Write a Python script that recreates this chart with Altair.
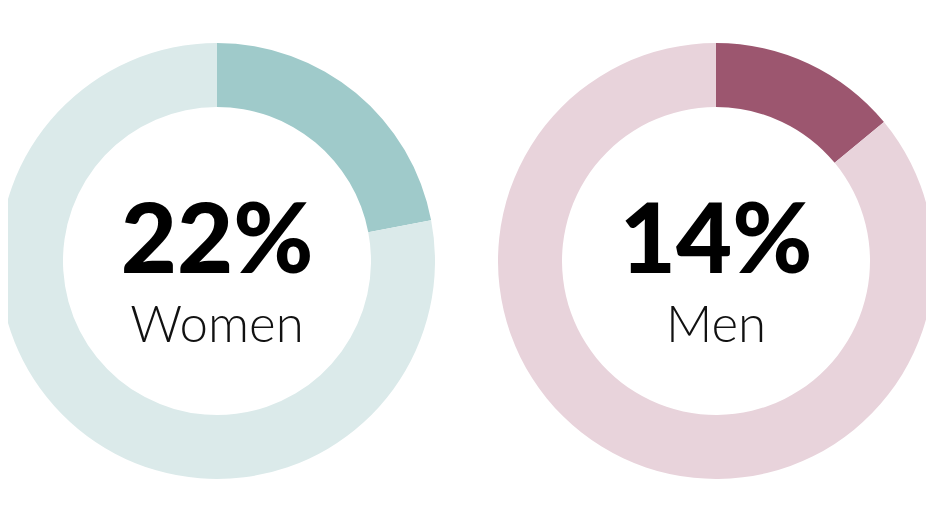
import altair as alt
import pandas as pd

# Data
groups = ["Women", "Men"]
shares = [22, 14]
share_colors = ["#9fcaca", "#9c566f"]
rest_colors = ["#dbeaea", "#e8d3db"]

rows = []
for g, s in zip(groups, shares):
    rows.append({"group": g, "part": g + " share", "start": 0, "end": s})
    rows.append({"group": g, "part": g + " rest", "start": s, "end": 100})
arcs = pd.DataFrame(rows)
labels = pd.DataFrame({"group": groups, "pct": [f"{s}%" for s in shares]})

part_domain = [g + " share" for g in groups] + [g + " rest" for g in groups]
part_range = share_colors + rest_colors

x = alt.X("group:N", axis=None,
          scale=alt.Scale(type="point", domain=groups, range=[209, 708], padding=0))

donuts = alt.Chart(arcs).mark_arc(innerRadius=154, outerRadius=218, strokeWidth=0).encode(
    x=x,
    theta=alt.Theta("start:Q", scale=alt.Scale(domain=[0, 100], range=[0, 6.283185307])),
    theta2="end:Q",
    color=alt.Color("part:N", scale=alt.Scale(domain=part_domain, range=part_range), legend=None),
)

pct_text = alt.Chart(labels).mark_text(
    font="Lato", fontWeight=900, fontSize=97, color="#000000",
    baseline="alphabetic", align="center", dy=12,
).encode(x=x, text="pct:N")

name_text = alt.Chart(labels).mark_text(
    font="Lato", fontWeight=300, fontSize=51, color="#111111",
    baseline="alphabetic", align="center", dy=81,
).encode(x=x, text="group:N")

chart = alt.layer(donuts, pct_text, name_text).properties(
    width=918, height=506,
    autosize=alt.AutoSizeParams(type="none"),
    padding=0,
    background="white",
).configure_view(stroke="transparent", strokeWidth=0)

chart.save("out.html", embed_options={"renderer": "svg", "actions": False})
